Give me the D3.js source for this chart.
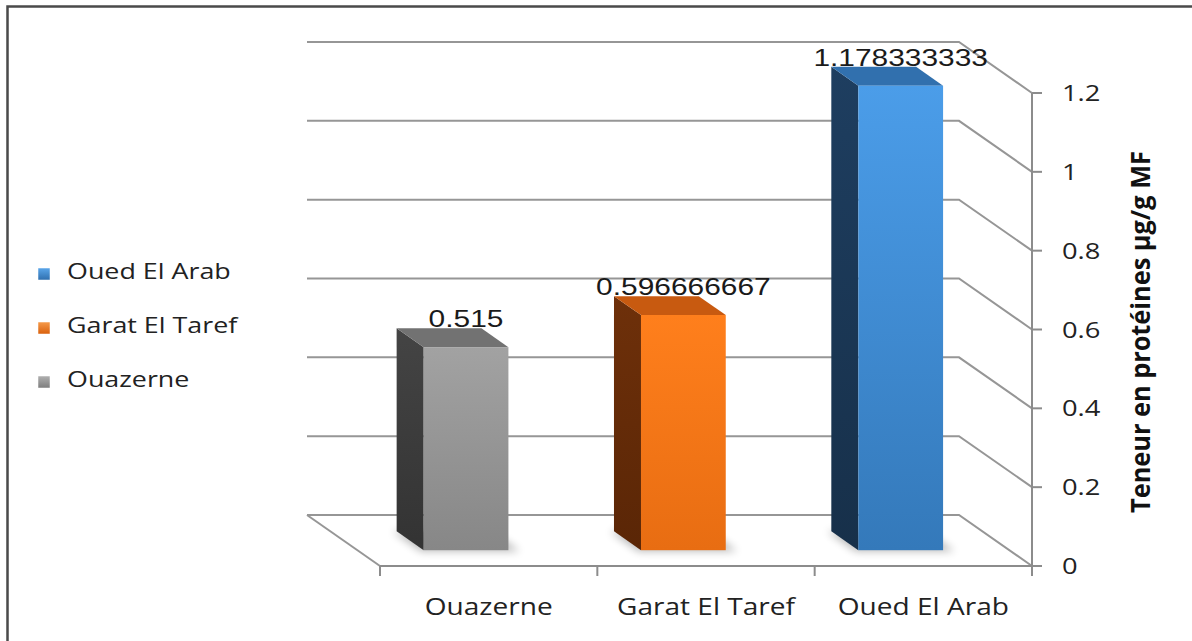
<!DOCTYPE html>
<html>
<head>
<meta charset="utf-8">
<script src="https://cdn.jsdelivr.net/npm/d3@7/dist/d3.min.js"></script>
<style>
  html, body { margin: 0; padding: 0; background: #fff; }
  svg { display: block; }
</style>
</head>
<body>
<svg id="chart" width="1192" height="641"></svg>
<script>
// ---- data ----
const categories = ["Ouazerne", "Garat El Taref", "Oued El Arab"];
const values = [0.515, 0.596666667, 1.178333333];
const valueLabels = ["0.515", "0.596666667", "1.178333333"];
const yTicks = [0, 0.2, 0.4, 0.6, 0.8, 1, 1.2];
const yTickLabels = ["0", "0.2", "0.4", "0.6", "0.8", "1", "1.2"];
const legendOrder = ["Oued El Arab", "Garat El Taref", "Ouazerne"];
const yTitle = "Teneur en protéines µg/g MF";

// ---- styling ----
const palette = {
  "Ouazerne":       { front: ["#a2a2a2", "#878787"], side: ["#444444", "#333333"], top: "#727272", sw: ["#b0b0b0", "#7d7d7d"] },
  "Garat El Taref": { front: ["#ff7f1c", "#e86d12"], side: ["#6e300a", "#5a2606"], top: "#c85a10", sw: ["#f59a4a", "#d9600c"] },
  "Oued El Arab":   { front: ["#4b9de9", "#3479ba"], side: ["#1e3e60", "#17304a"], top: "#3170ae", sw: ["#5aa6ea", "#2f6fae"] }
};
const gridColor = "#969696";

const svg = d3.select("#chart");
const W = 1192, H = 641;

// depth offset of the back wall relative to the front plane
const DX = 73, DY = 51;
const zFront = 0.31, zBack = 0.68;

const x = d3.scaleBand().domain(categories).range([380, 1032]).paddingInner(0.61).paddingOuter(0.305);
const y = d3.scaleLinear().domain([0, 1.2]).range([566, 93]);

const proj = (px, v, z) => [px - z * DX, y(v) - z * DY];
const pts = arr => arr.map(p => p.join(",")).join(" ");

const defs = svg.append("defs");
categories.forEach((c, i) => {
  const p = palette[c];
  const gf = defs.append("linearGradient").attr("id", "front" + i).attr("x1", 0).attr("y1", 0).attr("x2", 0).attr("y2", 1);
  gf.append("stop").attr("offset", 0).attr("stop-color", p.front[0]);
  gf.append("stop").attr("offset", 1).attr("stop-color", p.front[1]);
  const gs = defs.append("linearGradient").attr("id", "side" + i).attr("x1", 0).attr("y1", 0).attr("x2", 0).attr("y2", 1);
  gs.append("stop").attr("offset", 0).attr("stop-color", p.side[0]);
  gs.append("stop").attr("offset", 1).attr("stop-color", p.side[1]);
  const gw = defs.append("linearGradient").attr("id", "sw" + i).attr("x1", 0).attr("y1", 0).attr("x2", 0).attr("y2", 1);
  gw.append("stop").attr("offset", 0).attr("stop-color", p.sw[0]);
  gw.append("stop").attr("offset", 1).attr("stop-color", p.sw[1]);
});
defs.append("filter").attr("id", "soft").attr("x", "-50%").attr("y", "-50%").attr("width", "200%").attr("height", "200%")
  .append("feGaussianBlur").attr("stdDeviation", 4);

// horizontally stretched text helper
function stretch(sel, sx) {
  sel.each(function () {
    const len = this.getComputedTextLength();
    d3.select(this).attr("textLength", len * sx).attr("lengthAdjust", "spacingAndGlyphs");
  });
}

// chart frame
svg.append("path").attr("d", `M7.5,${H} V6.5 H${W}`).attr("fill", "none").attr("stroke", "#4a4a4a").attr("stroke-width", 2.5);

// ---- walls, floor and gridlines ----
const xL = x.range()[0], xR = x.range()[1];
const grid = svg.append("g").attr("fill", "none").attr("stroke", gridColor).attr("stroke-width", 2);
yTicks.forEach(t => {
  const a = proj(xL, t, 1), b = proj(xR, t, 1), c = proj(xR, t, 0);
  grid.append("polyline").attr("points", pts([a, b, c]));
});
// floor left edge
grid.append("line")
  .attr("x1", proj(xL, 0, 1)[0]).attr("y1", proj(xL, 0, 1)[1])
  .attr("x2", proj(xL, 0, 0)[0]).attr("y2", proj(xL, 0, 0)[1]);

// front x axis and category ticks
const axisG = svg.append("g").attr("stroke", "#8c8c8c").attr("stroke-width", 2).attr("fill", "none");
axisG.append("line").attr("x1", xL).attr("x2", xR).attr("y1", y(0)).attr("y2", y(0));
const catEdges = [xL].concat(categories.map(c => x(c) + x.bandwidth() + x.step() * x.paddingInner() / 2));
catEdges[catEdges.length - 1] = xR;
catEdges.forEach(e => axisG.append("line").attr("x1", e).attr("x2", e).attr("y1", y(0)).attr("y2", y(0) + 10));

// right value axis
axisG.append("line").attr("x1", xR).attr("x2", xR).attr("y1", y(0)).attr("y2", y(1.2));
yTicks.forEach(t => axisG.append("line").attr("x1", xR).attr("x2", xR + 10).attr("y1", y(t)).attr("y2", y(t)));

// ---- bars ----
const bars = svg.append("g");
categories.forEach((c, i) => {
  const v = values[i];
  const x0 = x(c), x1 = x0 + x.bandwidth();
  // soft floor shadow
  bars.append("polygon")
    .attr("points", pts([proj(x0 - 4, 0, zFront - 0.02), proj(x1 + 10, 0, zFront - 0.02), proj(x1 + 10, 0, zBack), proj(x0 - 4, 0, zBack)]))
    .attr("fill", "#000").attr("opacity", 0.28).attr("filter", "url(#soft)");
  // left side face
  bars.append("polygon")
    .attr("points", pts([proj(x0, 0, zFront), proj(x0, v, zFront), proj(x0, v, zBack), proj(x0, 0, zBack)]))
    .attr("fill", `url(#side${i})`);
  // top face
  bars.append("polygon")
    .attr("points", pts([proj(x0, v, zFront), proj(x1, v, zFront), proj(x1, v, zBack), proj(x0, v, zBack)]))
    .attr("fill", palette[c].top);
  // front face
  const f0 = proj(x0, v, zFront), f1 = proj(x1, 0, zFront);
  bars.append("rect")
    .attr("x", f0[0]).attr("y", f0[1]).attr("width", f1[0] - f0[0]).attr("height", f1[1] - f0[1])
    .attr("fill", `url(#front${i})`);
  // value label
  const lx = (f0[0] + f1[0]) / 2;
  const ly = proj(x0, v, zBack)[1] - 1;
  bars.append("text").attr("x", lx).attr("y", ly)
    .attr("text-anchor", "middle")
    .attr("font-family", "'Liberation Sans', Arial, sans-serif").attr("font-size", 23).attr("fill", "#1a1a1a")
    .text(valueLabels[i])
    .call(stretch, 1.3);
});

// ---- value tick labels ----
svg.append("g").selectAll("text").data(yTicks).join("text")
  .attr("x", xR + 30).attr("y", d => y(d) + 8)
  .attr("font-family", "'Open Sans', sans-serif").attr("font-size", 21).attr("fill", "#222")
  .text((d, i) => yTickLabels[i])
  .call(stretch, 1.3);

// ---- category labels ----
svg.append("g").selectAll("text").data(categories).join("text")
  .attr("x", d => x(d) + x.bandwidth() / 2).attr("y", 615)
  .attr("text-anchor", "middle")
  .attr("font-family", "'Open Sans', sans-serif").attr("font-size", 23).attr("fill", "#222")
  .text(d => d)
  .call(stretch, 1.22);

// ---- axis title ----
svg.append("text")
  .attr("transform", `translate(1150,332) scale(1.25,1) rotate(-90)`)
  .attr("text-anchor", "middle")
  .attr("font-family", "'Open Sans', sans-serif").attr("font-weight", "bold").attr("font-size", 22).attr("fill", "#111")
  .attr("textLength", 362).attr("lengthAdjust", "spacingAndGlyphs")
  .text(yTitle);

// ---- legend ----
const legend = svg.append("g");
legendOrder.forEach((c, k) => {
  const i = categories.indexOf(c);
  const by = 279 + k * 54;
  legend.append("rect").attr("x", 38).attr("y", by - 11).attr("width", 12).attr("height", 12)
    .attr("fill", `url(#sw${i})`).attr("stroke", "#fff").attr("stroke-width", 0.5);
  legend.append("text").attr("x", 67).attr("y", by)
    .attr("font-family", "'Open Sans', sans-serif").attr("font-size", 22).attr("fill", "#222")
    .text(c)
    .call(stretch, 1.22);
});
</script>
</body>
</html>
